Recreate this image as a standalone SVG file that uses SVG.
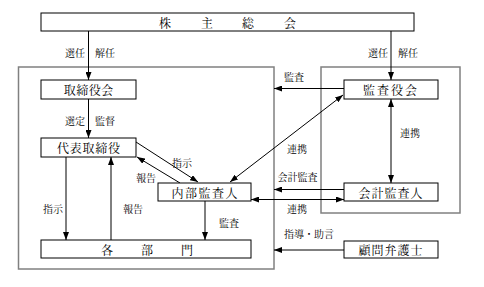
<svg xmlns="http://www.w3.org/2000/svg" width="484" height="287" viewBox="0 0 484 287">
<style>
text{font-family:"Noto Serif CJK JP","Noto Sans CJK JP",sans-serif;fill:#000}
.box{fill:#fff;stroke:#000;stroke-width:1}
.grp{fill:none;stroke:#808080;stroke-width:1.5}
.bt{font-size:12px;text-anchor:middle;dominant-baseline:central}
.lb{font-size:10px;text-anchor:middle;dominant-baseline:central}
.c{fill:none;stroke:#000;stroke-width:1}
.a{marker-end:url(#ah)}
.d{marker-start:url(#ah);marker-end:url(#ah)}
</style>
<defs>
<marker id="ah" viewBox="0 0 8 6" refX="8" refY="3" markerWidth="8" markerHeight="6" markerUnits="userSpaceOnUse" orient="auto-start-reverse">
<path d="M0,0 L8,3 L0,6 z" fill="#000"/>
</marker>
</defs>
<rect id="company" class="grp" x="18.5" y="67" width="255.5" height="202"/>
<rect id="auditgroup" class="grp" x="321" y="67" width="139" height="146"/>
<g id="connectors">
<line class="c a" x1="88.5" y1="31" x2="88.5" y2="80"/>
<line class="c a" x1="88.5" y1="99" x2="88.5" y2="138"/>
<line class="c a" x1="391" y1="31" x2="391" y2="80"/>
<line class="c a" x1="344" y1="88.5" x2="274" y2="88.5"/>
<line class="c d" x1="391" y1="99" x2="391" y2="183"/>
<line class="c a" x1="344" y1="189.5" x2="274" y2="189.5"/>
<line class="c d" x1="251" y1="199.5" x2="344" y2="199.5"/>
<line class="c a" x1="344" y1="250" x2="274" y2="250"/>
<line class="c d" x1="230" y1="182" x2="343" y2="95"/>
<line class="c a" x1="136" y1="142" x2="198" y2="182"/>
<line class="c a" x1="180" y1="183" x2="137" y2="157"/>
<line class="c a" x1="66" y1="157" x2="66" y2="240"/>
<line class="c a" x1="111" y1="240" x2="111" y2="157"/>
<line class="c a" x1="205" y1="201" x2="205" y2="240"/>
<text class="lb" x="90" y="52">選任　解任</text>
<text class="lb" x="393" y="52">選任　解任</text>
<text class="lb" x="90" y="120">選定　監督</text>
<text class="lb" x="294" y="76">監査</text>
<text class="lb" x="410" y="132">連携</text>
<text class="lb" x="297" y="148">連携</text>
<text class="lb" x="297.5" y="176">会計監査</text>
<text class="lb" x="297" y="208">連携</text>
<text class="lb" x="309" y="233.5">指導・助言</text>
<text class="lb" x="182" y="162">指示</text>
<text class="lb" x="146" y="177">報告</text>
<text class="lb" x="53" y="208">指示</text>
<text class="lb" x="133" y="208">報告</text>
<text class="lb" x="229" y="222">監査</text>
</g>
<g id="shareholders">
<rect class="box" x="41" y="13" width="373" height="18"/>
<text class="bt" x="165" y="22">株</text>
<text class="bt" x="207" y="22">主</text>
<text class="bt" x="248" y="22">総</text>
<text class="bt" x="290" y="22">会</text>
</g>
<g id="board">
<rect class="box" x="41" y="80" width="95" height="19"/>
<text class="bt" x="88.8" y="89.5" style="letter-spacing:0.5px">取締役会</text>
</g>
<g id="ceo">
<rect class="box" x="41" y="138" width="95" height="19"/>
<text class="bt" x="88.9" y="147.5" style="letter-spacing:0.75px">代表取締役</text>
</g>
<g id="internal">
<rect class="box" x="158" y="183" width="93" height="18"/>
<text class="bt" x="205.2" y="192" style="letter-spacing:1.5px">内部監査人</text>
</g>
<g id="departments">
<rect class="box" x="41" y="240" width="210" height="18"/>
<text class="bt" x="107" y="249">各</text>
<text class="bt" x="147" y="249">部</text>
<text class="bt" x="187" y="249">門</text>
</g>
<g id="auditors">
<rect class="box" x="344" y="80" width="94" height="19"/>
<text class="bt" x="391" y="89.5" style="letter-spacing:2px">監査役会</text>
</g>
<g id="accounting">
<rect class="box" x="344" y="183" width="94" height="18"/>
<text class="bt" x="391" y="192" style="letter-spacing:1px">会計監査人</text>
</g>
<g id="lawyer">
<rect class="box" x="344" y="241" width="94" height="17"/>
<text class="bt" x="391" y="249.5" style="letter-spacing:1px">顧問弁護士</text>
</g>
</svg>
